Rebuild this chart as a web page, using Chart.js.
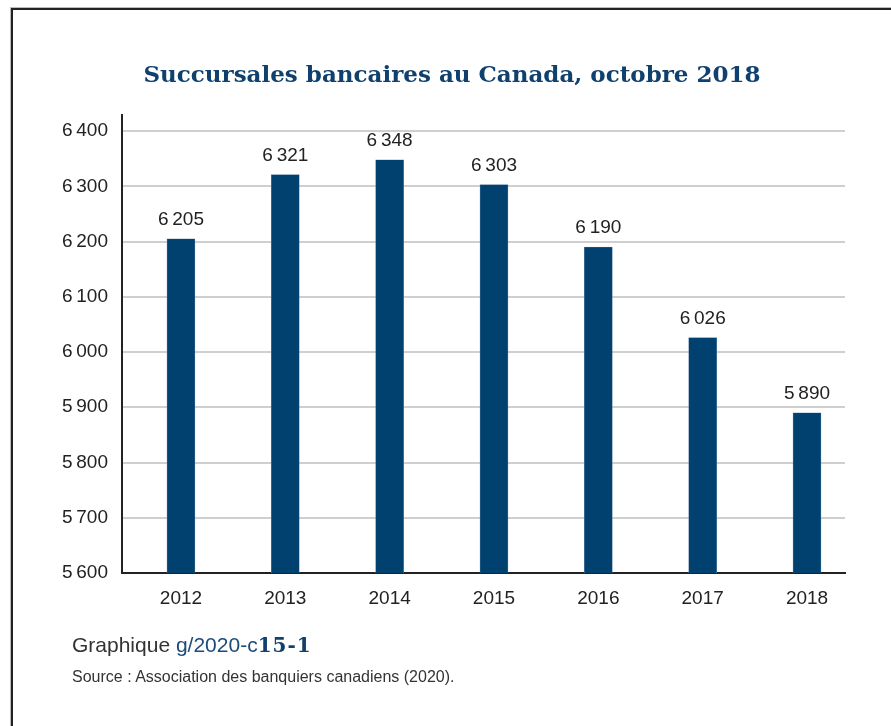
<!DOCTYPE html>
<html>
<head>
<meta charset="utf-8">
<script src="https://cdn.jsdelivr.net/npm/chart.js@4"></script>
<style>
  html, body { margin: 0; padding: 0; background: #fff; }
  #wrap { position: relative; width: 891px; height: 726px; overflow: hidden; }
  #frame { position: absolute; left: 11px; top: 8px; width: 900px; height: 730px;
           border-left: 2px solid #222; border-top: 2px solid #222;
           box-shadow: -1px -1px 0 #bbb; }
  #title { position: absolute; left: 0; width: 904px; top: 60px; text-align: center;
           font-family: "DejaVu Serif", serif; font-weight: bold; font-size: 23px;
           color: #0f406e; white-space: nowrap; }
  #graph { position: absolute; left: 72px; top: 633px; font-family: "Liberation Sans", Arial, sans-serif;
           font-size: 21px; color: #333; white-space: nowrap; }
  #graph .c { color: #1a4b7a; }
  #graph b { font-family: "DejaVu Serif", serif; font-weight: bold; color: #0f406e; font-size: 20px; letter-spacing: 1px; }
  #src { position: absolute; left: 72px; top: 668px; font-family: "Liberation Sans", Arial, sans-serif;
         font-size: 16px; color: #333; white-space: nowrap; }
  canvas { position: absolute; left: 0; top: 0; }
</style>
</head>
<body>
<div id="wrap">
  <div id="frame"></div>
  <canvas id="c" width="891" height="726"></canvas>
  <div id="title">Succursales bancaires au Canada, octobre 2018</div>
  <div id="graph">Graphique <span class="c">g/2020-c</span><b>15-1</b></div>
  <div id="src">Source : Association des banquiers canadiens (2020).</div>
</div>
<script>
const categories = ["2012", "2013", "2014", "2015", "2016", "2017", "2018"];
const branches = [6205, 6321, 6348, 6303, 6190, 6026, 5890];
const yTicks = [5600, 5700, 5800, 5900, 6000, 6100, 6200, 6300, 6400];

function fmt(v) {
  const s = String(v);
  return s.length > 3 ? s.slice(0, s.length - 3) + "\u2009" + s.slice(-3) : s;
}

const labelPlugin = {
  id: "barLabels",
  afterDatasetsDraw(chart) {
    const ctx = chart.ctx;
    const meta = chart.getDatasetMeta(0);
    ctx.save();
    ctx.font = "19px 'Liberation Sans', Arial, sans-serif";
    ctx.fillStyle = "#222";
    ctx.textAlign = "center";
    ctx.textBaseline = "middle";
    meta.data.forEach((bar, i) => {
      ctx.fillText(fmt(branches[i]), bar.x, bar.y - 19);
    });
    ctx.restore();
  }
};

Chart.defaults.font.family = "'Liberation Sans', Arial, sans-serif";
Chart.defaults.color = "#222";

new Chart(document.getElementById("c"), {
  type: "bar",
  data: {
    datasets: [{
      data: branches.map((v, i) => ({ x: i, y: v })),
      backgroundColor: "#00416f",
      borderColor: "#5c82a6",
      borderWidth: 0.6,
      barThickness: 28
    }]
  },
  options: {
    responsive: false,
    animation: false,
    devicePixelRatio: 1,
    layout: { padding: { left: 0, right: 46, top: 115, bottom: 113 } },
    plugins: { legend: { display: false }, title: { display: false }, tooltip: { enabled: false } },
    scales: {
      x: {
        type: "linear",
        offset: false,
        min: -0.565,
        max: 6.364,
        afterBuildTicks: s => { s.ticks = categories.map((c, i) => ({ value: i })); },
        afterFit: s => { s.height = 40; },
        ticks: {
          callback: v => categories[v],
          font: { size: 19 },
          color: "#222",
          padding: 14,
          autoSkip: false,
          maxRotation: 0
        },
        grid: { display: false, drawTicks: false, offset: false },
        border: { display: true, color: "#222", width: 2 }
      },
      y: {
        type: "linear",
        min: 5600,
        max: 6429,
        afterBuildTicks: s => { s.ticks = yTicks.map(v => ({ value: v })); },
        afterFit: s => { s.width = 122; },
        ticks: {
          callback: v => fmt(v),
          font: { size: 19 },
          color: "#222",
          padding: 14
        },
        grid: { color: "#cfcfcf", lineWidth: 2, drawTicks: false, tickLength: 0 },
        border: { display: true, color: "#222", width: 2 }
      }
    }
  },
  plugins: [labelPlugin]
});
</script>
</body>
</html>
